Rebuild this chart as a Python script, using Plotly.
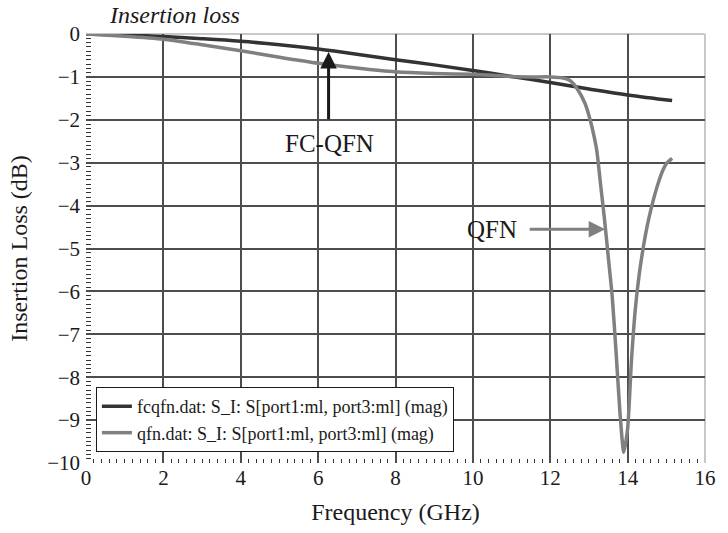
import plotly.graph_objects as go

# Data
fc_freq = [0, 1, 2, 3, 4, 5, 6, 7, 8, 9, 10, 11, 12, 13, 14, 15.15]
fc_loss = [0, -0.02, -0.06, -0.11, -0.17, -0.25, -0.35, -0.47, -0.6, -0.72, -0.85, -0.99, -1.13, -1.28, -1.42, -1.55]

qfn_freq = [0, 1, 2, 3, 4, 5, 6, 7, 8, 9, 10, 10.5, 11, 11.5, 12, 12.3, 12.5, 12.7, 12.9, 13.0, 13.1,
            13.2, 13.3, 13.4, 13.5, 13.6, 13.7, 13.8, 13.9, 14.0, 14.1, 14.2, 14.3, 14.4, 14.5, 14.6,
            14.7, 14.8, 14.9, 15.0, 15.15]
qfn_loss = [0, -0.05, -0.12, -0.25, -0.39, -0.54, -0.68, -0.79, -0.88, -0.92, -0.94, -0.96, -0.99, -1.0,
            -1.0, -1.02, -1.08, -1.28, -1.62, -1.9, -2.25, -2.7, -3.5, -4.3, -5.2, -6.1, -7.4, -8.8,
            -9.75, -9.2, -7.6, -6.4, -5.6, -5.0, -4.5, -4.1, -3.75, -3.45, -3.2, -3.02, -2.9]

fc_name = "fcqfn.dat: S_I: S[port1:ml, port3:ml] (mag)"
qfn_name = "qfn.dat: S_I: S[port1:ml, port3:ml] (mag)"

x_range = [0, 16]
y_range = [-10, 0]
x_step = 2
y_step = 1

FONT = "Liberation Serif"
INK = "#1a1a1a"
GRID = "#4d4d4d"

fig = go.Figure()
fig.add_trace(go.Scatter(x=fc_freq, y=fc_loss, mode="lines", name=fc_name,
                         line=dict(color="#333333", width=3.5, shape="spline")))
fig.add_trace(go.Scatter(x=qfn_freq, y=qfn_loss, mode="lines", name=qfn_name,
                         line=dict(color="#808080", width=3.5, shape="spline", smoothing=0.6)))

# FC-QFN arrow and label
fig.add_annotation(x=6.27, y=-0.42, ax=6.27, ay=-2.02, xref="x", yref="y", axref="x", ayref="y",
                   text="", showarrow=True, arrowhead=2, arrowsize=1.1, arrowwidth=3, arrowcolor=INK)
fig.add_annotation(x=6.3, y=-2.55, xref="x", yref="y", text="FC-QFN", showarrow=False,
                   font=dict(family=FONT, size=25, color=INK))
# QFN arrow and label
fig.add_annotation(x=13.42, y=-4.55, ax=11.43, ay=-4.55, xref="x", yref="y", axref="x", ayref="y",
                   text="", showarrow=True, arrowhead=2, arrowsize=1.1, arrowwidth=3, arrowcolor="#808080")
fig.add_annotation(x=10.5, y=-4.55, xref="x", yref="y", text="QFN", showarrow=False,
                   font=dict(family=FONT, size=25, color=INK))

# light frame on the top and right of the plot area
fig.add_shape(type="line", xref="paper", yref="paper", x0=0, x1=1, y0=1, y1=1,
              line=dict(color="#c8c8c8", width=2), layer="below")
fig.add_shape(type="line", xref="paper", yref="paper", x0=1, x1=1, y0=0, y1=1,
              line=dict(color="#c8c8c8", width=2), layer="below")

fig.update_layout(
    width=728, height=533,
    margin=dict(l=86, r=12, t=34, b=70),
    paper_bgcolor="white", plot_bgcolor="white",
    font=dict(family=FONT, size=21, color=INK),
    title=dict(text="<i>Insertion loss</i>", x=0.151, xanchor="left", y=0.972, yanchor="middle",
               font=dict(family=FONT, size=24, color=INK)),
    showlegend=True,
    legend=dict(x=0.016, y=0.177, xanchor="left", yanchor="top", bgcolor="white",
                bordercolor=INK, borderwidth=1, font=dict(family=FONT, size=18, color=INK),
                tracegroupgap=0),
)
fig.update_xaxes(range=x_range, tickmode="linear", tick0=0, dtick=x_step, showgrid=True,
                 gridcolor=GRID, gridwidth=2, zeroline=False, ticks="",
                 tickfont=dict(family=FONT, size=21, color=INK),
                 minor=dict(dtick=0.2, tick0=0, ticks="inside", ticklen=4, tickcolor="#333333", showgrid=False),
                 title=dict(text="Frequency (GHz)", font=dict(family=FONT, size=24, color=INK), standoff=14))
fig.update_yaxes(range=y_range, tickmode="linear", tick0=0, dtick=y_step, showgrid=True,
                 gridcolor=GRID, gridwidth=2, zeroline=False, ticks="", ticklabelstandoff=5,
                 tickfont=dict(family=FONT, size=21, color=INK),
                 minor=dict(dtick=0.1, tick0=0, ticks="inside", ticklen=5, tickcolor="#333333", showgrid=False),
                 title=dict(text="Insertion Loss (dB)", font=dict(family=FONT, size=24, color=INK), standoff=12))

fig.write_html("out.html")
